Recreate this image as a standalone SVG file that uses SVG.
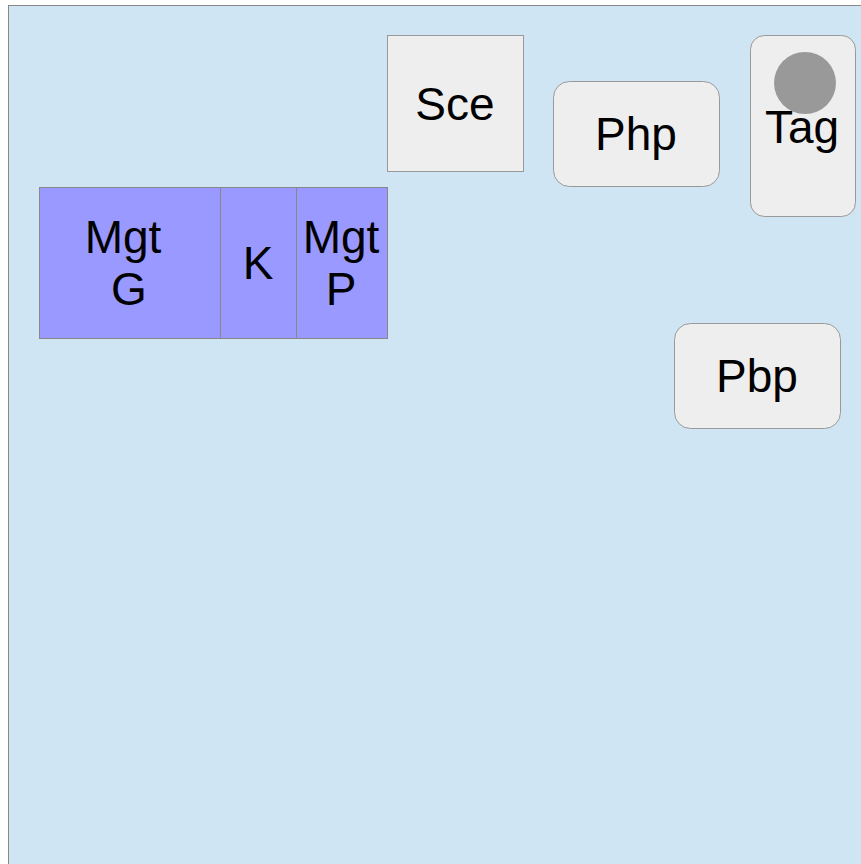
<svg xmlns="http://www.w3.org/2000/svg" width="861" height="864" viewBox="0 0 861 864">
<style>
text{font-family:"Liberation Sans",Arial,sans-serif;font-size:46px;fill:#000;text-anchor:middle}
.g{fill:#eeeeee;stroke:#999999;stroke-width:1}
.b{fill:#9999ff;stroke:#888888;stroke-width:1}
</style>
<rect x="8.5" y="5.5" width="860" height="870" fill="#cfe5f3" stroke="#888888" stroke-width="1"/>
<g id="sce"><rect class="g" x="387.5" y="35.5" width="136" height="136"/><text x="455" y="120">Sce</text></g>
<g id="php"><rect class="g" x="553.5" y="81.5" width="166" height="105" rx="16"/><text x="636" y="150">Php</text></g>
<g id="tag"><rect class="g" x="750.5" y="35.5" width="105" height="181" rx="14"/><circle cx="805" cy="83" r="31" fill="#999999"/><text x="802" y="143">Tag</text></g>
<g id="pbp"><rect class="g" x="674.5" y="323.5" width="166" height="105" rx="16"/><text x="757" y="392">Pbp</text></g>
<g id="mgtg"><rect class="b" x="39.5" y="187.5" width="181" height="151"/><text x="123" y="253">Mgt</text><text x="129" y="305">G</text></g>
<g id="k"><rect class="b" x="220.5" y="187.5" width="76" height="151"/><text x="258" y="279">K</text></g>
<g id="mgtp"><rect class="b" x="296.5" y="187.5" width="91" height="151"/><text x="341" y="253">Mgt</text><text x="341" y="305">P</text></g>
<g id="connectors"></g>
</svg>
